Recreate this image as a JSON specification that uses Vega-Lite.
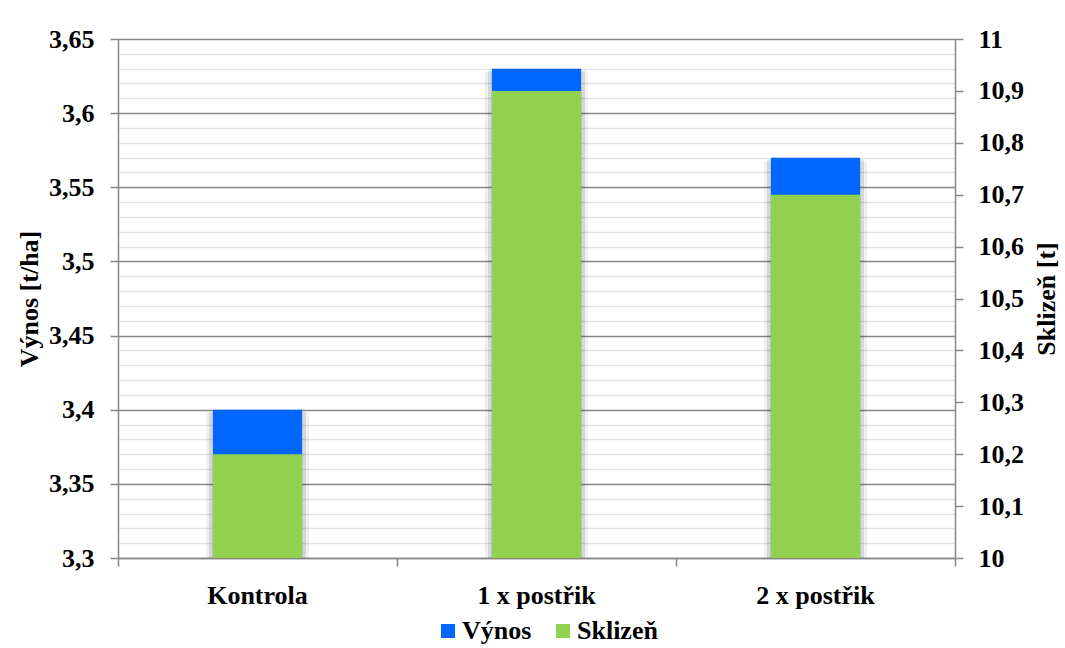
{
  "$schema": "https://vega.github.io/schema/vega-lite/v6.json",
  "width": 837,
  "height": 519,
  "autosize": {"type": "none"},
  "padding": {"left": 118, "top": 39, "right": 110, "bottom": 90},
  "background": "white",
  "config": {
    "view": {"stroke": null},
    "font": "'Liberation Serif', 'Times New Roman', 'DejaVu Serif', serif",
    "axis": {
      "labelFont": "'Liberation Serif', 'Times New Roman', 'DejaVu Serif', serif",
      "labelFontSize": 26,
      "labelFontWeight": "bold",
      "labelColor": "#000000",
      "titleFont": "'Liberation Serif', 'Times New Roman', 'DejaVu Serif', serif",
      "titleFontSize": 26,
      "titleFontWeight": "bold",
      "titleColor": "#000000",
      "domainColor": "#878787",
      "domainWidth": 1.5,
      "tickColor": "#878787",
      "tickWidth": 1.5,
      "tickSize": 8
    }
  },
  "data": {
    "values": [
      {"varianta": "Kontrola", "vynos": 3.40, "sklizen": 10.2},
      {"varianta": "1 x postřik", "vynos": 3.63, "sklizen": 10.9},
      {"varianta": "2 x postřik", "vynos": 3.57, "sklizen": 10.7}
    ]
  },
  "encoding": {
    "x": {
      "field": "varianta",
      "type": "nominal",
      "sort": null,
      "scale": {"paddingInner": 0, "paddingOuter": 0},
      "axis": {
        "title": null,
        "labelAngle": 0,
        "labelPadding": 16,
        "bandPosition": 1,
        "tickExtra": true,
        "grid": false
      }
    }
  },
  "layer": [
    {
      "encoding": {
        "y": {
          "field": "vynos",
          "type": "quantitative",
          "scale": {"domain": [3.3, 3.65], "zero": false, "nice": false},
          "axis": {
            "orient": "left",
            "title": "Výnos [t/ha]",
            "titlePadding": 6,
            "values": [3.3, 3.31, 3.32, 3.33, 3.34, 3.35, 3.36, 3.37, 3.38, 3.39, 3.4, 3.41, 3.42, 3.43, 3.44, 3.45, 3.46, 3.47, 3.48, 3.49, 3.5, 3.51, 3.52, 3.53, 3.54, 3.55, 3.56, 3.57, 3.58, 3.59, 3.6, 3.61, 3.62, 3.63, 3.64, 3.65],
            "labelExpr": "round(datum.value * 100) % 5 == 0 ? replace(format(datum.value, '.2~f'), '.', ',') : ''",
            "labelOverlap": false,
            "labelBound": false,
            "labelPadding": 16,
            "grid": true,
            "gridColor": {"condition": {"test": "round(datum.value * 100) % 5 == 0", "value": "#878787"}, "value": "#e3e3e3"},
            "gridWidth": 1.5,
            "tickOpacity": {"condition": {"test": "round(datum.value * 100) % 5 == 0", "value": 1}, "value": 0}
          }
        },
        "y2": {"datum": 3.3}
      },
      "layer": [
        {
          "mark": {"type": "bar", "width": 103, "color": "#000000", "opacity": 0.06, "yOffset": 3, "clip": true}
        },
        {
          "mark": {"type": "bar", "width": 97, "color": "#000000", "opacity": 0.1, "yOffset": 2, "clip": true}
        },
        {
          "mark": {"type": "bar", "width": {"band": 0.32}, "clip": true},
          "encoding": {
            "color": {
              "datum": "Výnos",
              "type": "nominal",
              "scale": {"domain": ["Výnos", "Sklizeň"], "range": ["#0066FF", "#92D050"]},
              "legend": {
                "title": null,
                "orient": "none",
                "direction": "horizontal",
                "legendX": 317,
                "legendY": 579,
                "symbolType": "square",
                "symbolSize": 196,
                "symbolStrokeWidth": 0,
                "labelFont": "'Liberation Serif', 'Times New Roman', 'DejaVu Serif', serif",
                "labelFontSize": 26,
                "labelFontWeight": "bold",
                "labelColor": "#000000",
                "labelOffset": 1,
                "columnPadding": 18
              }
            }
          }
        }
      ]
    },
    {
      "mark": {"type": "bar", "width": {"band": 0.32}, "clip": true},
      "encoding": {
        "y": {
          "field": "sklizen",
          "type": "quantitative",
          "scale": {"domain": [10, 11], "zero": false, "nice": false},
          "axis": {
            "orient": "right",
            "title": "Sklizeň [t]",
            "titleAngle": 270,
            "titleBaseline": "top",
            "titlePadding": 10,
            "values": [10, 10.1, 10.2, 10.3, 10.4, 10.5, 10.6, 10.7, 10.8, 10.9, 11],
            "labelExpr": "replace(format(datum.value, '.1~f'), '.', ',')",
            "labelPadding": 15,
            "labelOverlap": false,
            "labelBound": false,
            "grid": false
          }
        },
        "y2": {"datum": 10},
        "color": {"datum": "Sklizeň", "type": "nominal"}
      }
    }
  ],
  "resolve": {"scale": {"y": "independent"}}
}
